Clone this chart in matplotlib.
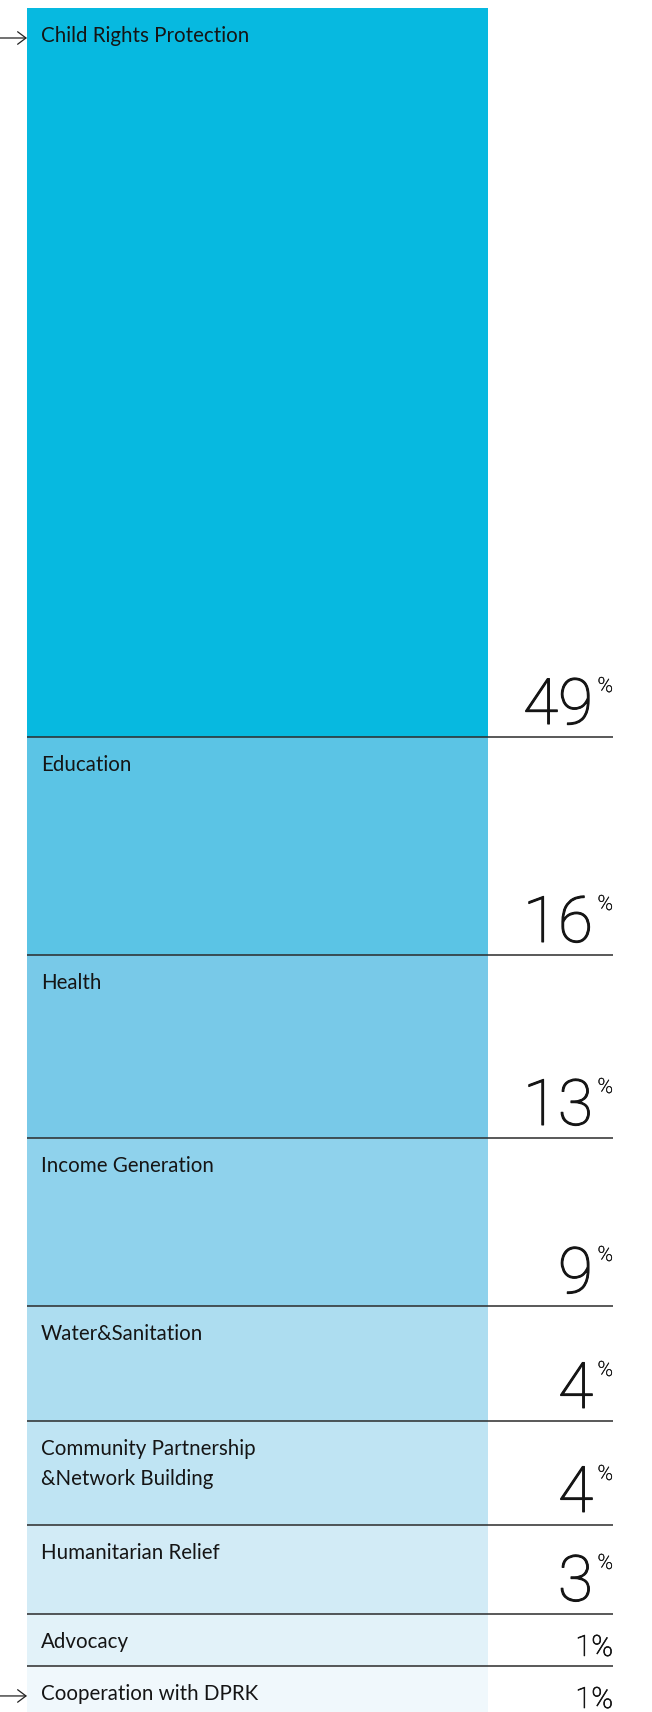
# Stacked single-column bar showing the share of each programme area
# Drawn as one tall column of blocks with the percentage to the right of each block

import matplotlib.pyplot as plt
import matplotlib.patheffects as pe


# Data

categories = ["Child Rights Protection", "Education", "Health", "Income Generation",
              "Water&Sanitation", "Community Partnership\n&Network Building",
              "Humanitarian Relief", "Advocacy", "Cooperation with DPRK"]
percent = [49, 16, 13, 9, 4, 4, 3, 1, 1]
# length of each block on the chart, in percent units (the small blocks are drawn taller than their share)
block_length = [49, 14.65, 12.30, 11.29, 7.73, 6.99, 5.98, 3.50, 3.40]
colours = ["#07B9E0", "#5BC4E5", "#78C9E8", "#8FD2EC", "#ADDDF0",
           "#BFE4F3", "#D2EBF6", "#E2F2F9", "#F0F8FC"]
arrow_rows = [0, 8]          # rows that get the little arrow on the left


# Layout (figure is 652 x 1712 pixels at dpi 100)
W, H = 652, 1712
PX_PER_UNIT = 729 / 49       # pixel height of one percent unit
TOP_PX = 8                   # gap above the column
BAR_LEFT, BAR_RIGHT, LINE_RIGHT = 27, 488, 613
PT = 0.72                    # points per pixel at dpi 100
INK = "#151515"


def thicker(w):
    # Roboto Light is a touch too thin, a thin outline brings it to the reference weight
    return [pe.withStroke(linewidth=w, foreground=INK)]


def draw(ax):
    bottoms = []
    total = 0
    for h in block_length:
        bottoms.append(total)
        total += h

    # the column itself
    ax.bar(BAR_LEFT, block_length, bottom=bottoms, width=BAR_RIGHT - BAR_LEFT,
           align="edge", color=colours, linewidth=0)

    # separator lines under every block but the last
    ends = [b + h for b, h in zip(bottoms, block_length)][:-1]
    ax.hlines(ends, BAR_LEFT, LINE_RIGHT, color="#2b2b2b", linewidth=1.1)

    for i, name in enumerate(categories):
        top = bottoms[i]
        end = top + block_length[i]

        # category name, first baseline about 34 px under the block top, 30 px line step
        for k, line in enumerate(name.split("\n")):
            ax.annotate(line, xy=(41, top), xytext=(0, -(34 + 30 * k) * PT),
                        textcoords="offset points", ha="left", va="baseline",
                        fontsize=14.8, family="Lato", color=INK)

        if percent[i] >= 3:
            # big figure sitting on the line, small % sign at its top right
            ax.annotate(str(percent[i]), xy=(593, end), xytext=(0, 13 * PT),
                        textcoords="offset points", ha="right", va="baseline",
                        fontsize=46, family="Roboto", fontweight="light", color=INK,
                        path_effects=thicker(0.8))
            ax.annotate("%", xy=(LINE_RIGHT, end), xytext=(0, (13 + 32) * PT),
                        textcoords="offset points", ha="right", va="baseline",
                        fontsize=15, family="Roboto", fontweight="light", color=INK,
                        path_effects=thicker(0.3))
        else:
            ax.annotate(str(percent[i]) + "%", xy=(LINE_RIGHT, top), xytext=(0, -42 * PT),
                        textcoords="offset points", ha="right", va="baseline",
                        fontsize=21, family="Roboto", fontweight="light", color=INK,
                        path_effects=thicker(0.5))

        if i in arrow_rows:
            y = top + 30 / PX_PER_UNIT
            ax.annotate("", xy=(BAR_LEFT, y), xytext=(0, y),
                        arrowprops=dict(arrowstyle="->,head_length=0.4,head_width=0.3",
                                        mutation_scale=15, lw=0.9, color="#222222",
                                        shrinkA=0, shrinkB=0))


def main():
    fig = plt.figure(figsize=(W / 100, H / 100), dpi=100)
    ax = fig.add_axes([0, 0, 1, 1])
    ax.set_xlim(0, W)
    ax.set_ylim((H - TOP_PX) / PX_PER_UNIT, -TOP_PX / PX_PER_UNIT)
    ax.axis("off")
    draw(ax)
    fig.savefig("out.png", dpi=100, facecolor="white")


if __name__ == "__main__":
    main()
